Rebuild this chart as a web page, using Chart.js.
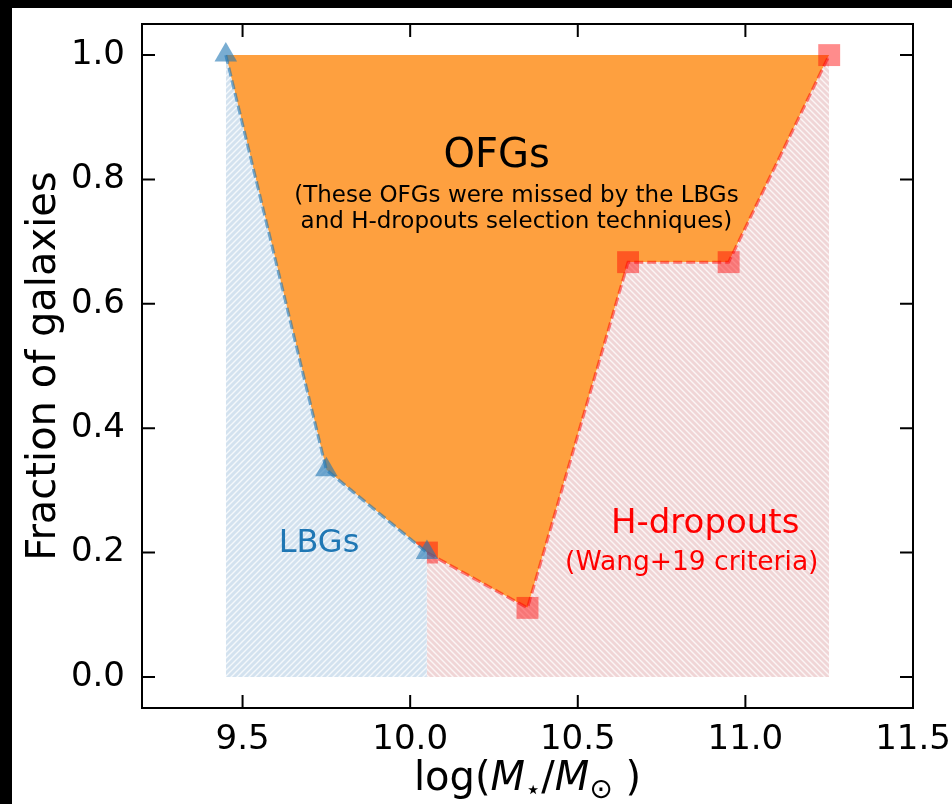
<!DOCTYPE html>
<html>
<head>
<meta charset="utf-8">
<script src="https://cdn.jsdelivr.net/npm/chart.js@4.4.0/dist/chart.umd.min.js"></script>
<style>
  html, body { margin: 0; padding: 0; background: #000; overflow: hidden; }
  #wrap { position: absolute; left: 12px; top: 8px; width: 940px; height: 796px; background: #fff; }
</style>
</head>
<body>
<div id="wrap"><canvas id="chart" width="940" height="796"></canvas></div>
<script>
// data
const lbgMass = [9.45, 9.75, 10.05];
const lbgFrac = [1.0, 0.333, 0.2];
const hdMass = [10.05, 10.35, 10.65, 10.95, 11.25];
const hdFrac = [0.2, 0.111, 0.667, 0.667, 1.0];
const xTicks = [9.5, 10.0, 10.5, 11.0, 11.5];
const yTicks = [0.0, 0.2, 0.4, 0.6, 0.8, 1.0];

// OFG region = everything above the combined curve, up to 1
const ofgMass = lbgMass.concat(hdMass.slice(1));
const ofgFrac = lbgFrac.concat(hdFrac.slice(1));

const toPts = (xs, ys) => xs.map((x, i) => ({ x: x, y: ys[i] }));

const FONT = "'DejaVu Sans', sans-serif";

// simple diagonal hatch, like matplotlib's '///' and '\\\\'
function hatch(bg, up) {
    const n = 6;
    const c = document.createElement('canvas');
    c.width = n; c.height = n;
    const g = c.getContext('2d');
    g.fillStyle = bg;
    g.fillRect(0, 0, n, n);
    g.strokeStyle = 'rgba(255,255,255,0.75)';
    g.lineWidth = 1.4;
    g.beginPath();
    if (up) {
        g.moveTo(-1, n + 1); g.lineTo(n + 1, -1);
        g.moveTo(-1, 1); g.lineTo(1, -1);
        g.moveTo(n - 1, n + 1); g.lineTo(n + 1, n - 1);
    } else {
        g.moveTo(-1, -1); g.lineTo(n + 1, n + 1);
        g.moveTo(n - 1, -1); g.lineTo(n + 1, 1);
        g.moveTo(-1, n - 1); g.lineTo(1, n + 1);
    }
    g.stroke();
    return g.createPattern(c, 'repeat');
}

// inward ticks on all four sides, the frame, and the labels
const decorations = {
    id: 'decorations',
    afterDatasetsDraw(chart) {
        const ctx = chart.ctx;
        const a = chart.chartArea;
        const xs = chart.scales.x, ys = chart.scales.y;
        ctx.save();
        ctx.strokeStyle = '#000';
        ctx.lineWidth = 2;
        ctx.strokeRect(a.left, a.top, a.right - a.left, a.bottom - a.top);
        ctx.beginPath();
        xs.ticks.forEach(t => {
            const p = xs.getPixelForValue(t.value);
            ctx.moveTo(p, a.bottom); ctx.lineTo(p, a.bottom - 13);
            ctx.moveTo(p, a.top); ctx.lineTo(p, a.top + 13);
        });
        ys.ticks.forEach(t => {
            const p = ys.getPixelForValue(t.value);
            ctx.moveTo(a.left, p); ctx.lineTo(a.left + 13, p);
            ctx.moveTo(a.right, p); ctx.lineTo(a.right - 13, p);
        });
        ctx.stroke();

        const put = (txt, x, y, size, color) => {
            ctx.font = size + 'px ' + FONT;
            ctx.fillStyle = color;
            ctx.textAlign = 'center';
            ctx.textBaseline = 'alphabetic';
            ctx.fillText(txt, xs.getPixelForValue(x), ys.getPixelForValue(y));
        };
        put('OFGs', 10.258, 0.82, 40, '#000');
        put('(These OFGs were missed by the LBGs', 10.317, 0.764, 23, '#000');
        put('and H-dropouts selection techniques)', 10.317, 0.722, 23, '#000');
        put('LBGs', 9.728, 0.201, 32, '#1f77b4');
        put('H-dropouts', 10.88, 0.231, 34, '#ff0000');
        put('(Wang+19 criteria)', 10.84, 0.172, 26.5, '#ff0000');

        ctx.fillStyle = '#000';

        // y axis title
        ctx.save();
        ctx.translate(33, (a.top + a.bottom) / 2);
        ctx.rotate(-Math.PI / 2);
        ctx.font = '40px ' + FONT;
        ctx.textAlign = 'center';
        ctx.textBaseline = 'middle';
        ctx.fillText('Fraction of galaxies', 0, 0);
        ctx.restore();

        // x axis title: log(M_star / M_sun)
        const parts = [
            ['log(', '40px ' + FONT, 0],
            ['M', 'italic 40px ' + FONT, 0],
            ['\u22C6', '26px ' + FONT, 8],
            ['/', '40px ' + FONT, 0],
            ['M', 'italic 40px ' + FONT, 0],
            ['\u2299', '28px ' + FONT, 8],
            [' )', '40px ' + FONT, 0]
        ];
        let total = 0;
        parts.forEach(p => { ctx.font = p[1]; total += ctx.measureText(p[0]).width; });
        let x = (a.left + a.right) / 2 - total / 2;
        const base = 782;
        ctx.textAlign = 'left';
        ctx.textBaseline = 'alphabetic';
        parts.forEach(p => {
            ctx.font = p[1];
            ctx.fillText(p[0], x, base + p[2]);
            x += ctx.measureText(p[0]).width;
        });
        ctx.restore();
    }
};

const noPad = s => {
    s.paddingTop = 0; s.paddingBottom = 0;
    s.paddingLeft = 0; s.paddingRight = 0;
};

const ctx = document.getElementById('chart').getContext('2d');
new Chart(ctx, {
    type: 'scatter',
    data: {
        datasets: [
            {
                label: 'LBGs',
                data: toPts(lbgMass, lbgFrac),
                showLine: true,
                borderColor: 'rgba(31,119,180,0.6)',
                borderWidth: 3,
                borderDash: [9, 4],
                pointStyle: 'triangle',
                pointRadius: 13,
                pointBorderWidth: 0,
                pointBackgroundColor: 'rgba(31,119,180,0.6)',
                fill: 'origin',
                backgroundColor: hatch('#d3e2ef', true),
                order: 1
            },
            {
                label: 'H-dropouts',
                data: toPts(hdMass, hdFrac),
                showLine: true,
                borderColor: 'rgba(255,0,0,0.5)',
                borderWidth: 3,
                borderDash: [9, 4],
                pointStyle: 'rect',
                pointRadius: 15.5,
                pointBorderWidth: 0,
                pointBackgroundColor: 'rgba(255,0,0,0.45)',
                fill: 'origin',
                backgroundColor: hatch('#f0d5d6', false),
                order: 2
            },
            {
                label: 'OFGs',
                data: toPts(ofgMass, ofgFrac),
                showLine: true,
                borderWidth: 0,
                borderColor: 'rgba(0,0,0,0)',
                pointRadius: 0,
                fill: { value: 1.0 },
                backgroundColor: '#fea03f',
                order: 3
            }
        ]
    },
    options: {
        responsive: false,
        animation: false,
        devicePixelRatio: 1,
        layout: { padding: { top: 16, right: 39, left: 0, bottom: 0 } },
        plugins: { legend: { display: false }, tooltip: { enabled: false } },
        elements: { line: { tension: 0 } },
        scales: {
            x: {
                type: 'linear',
                min: 9.2,
                max: 11.5,
                grid: { display: false, drawTicks: false, tickLength: 0 },
                border: { display: false },
                afterBuildTicks: s => { s.ticks = xTicks.map(v => ({ value: v })); },
                afterFit: s => { s.height = 96; noPad(s); },
                ticks: {
                    padding: 12,
                    color: '#000',
                    font: { family: FONT, size: 34 },
                    callback: v => v.toFixed(1)
                }
            },
            y: {
                type: 'linear',
                min: -0.05,
                max: 1.05,
                grid: { display: false, drawTicks: false, tickLength: 0 },
                border: { display: false },
                afterBuildTicks: s => { s.ticks = yTicks.map(v => ({ value: v })); },
                afterFit: s => { s.width = 130; noPad(s); },
                ticks: {
                    padding: 17,
                    color: '#000',
                    font: { family: FONT, size: 34 },
                    callback: v => v.toFixed(1)
                }
            }
        }
    },
    plugins: [decorations]
});
</script>
</body>
</html>
